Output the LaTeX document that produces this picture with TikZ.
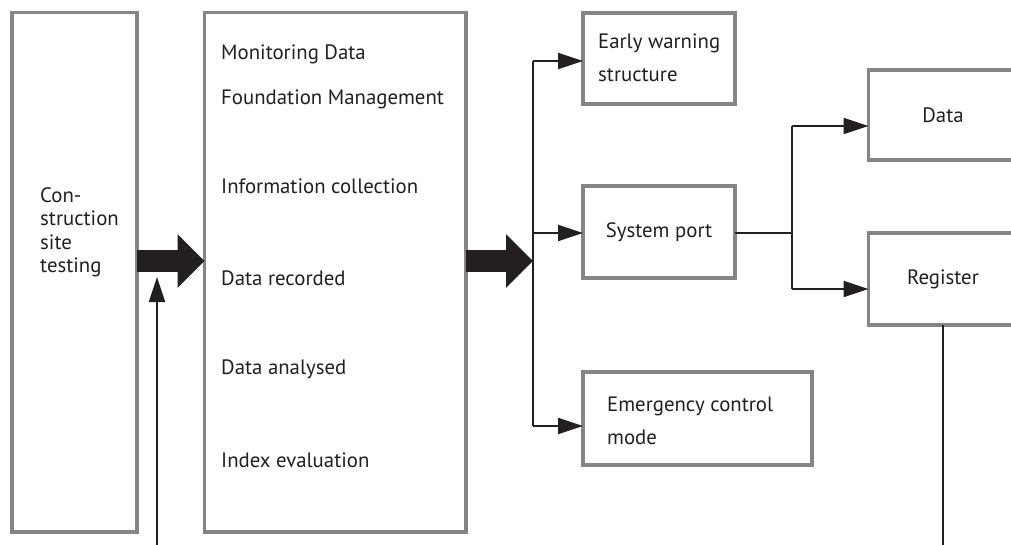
\documentclass[tikz,border=0pt]{standalone}
\usepackage{fontspec}
\setmainfont{PT Sans}
\usepackage{tikz}
\usetikzlibrary{arrows.meta,positioning}
\definecolor{ink}{HTML}{231F20}
\definecolor{frame}{HTML}{858585}

\begin{document}
\begin{tikzpicture}[x=1pt, y=-1pt, font=\fontsize{20.8}{23.5}\selectfont, text=ink,
  box/.style={draw=frame, line width=3.5pt, rectangle, outer sep=0pt, inner sep=0pt},
  twoline/.style={align=left, inner sep=0pt, anchor=base west, font=\fontsize{20.8}{33}\selectfont},
  itemtext/.style={inner sep=0pt, anchor=base west},
  link/.style={draw=ink, line width=1.8pt},
  tip/.style={link, -{Triangle[length=25pt, width=16pt]}},
  fat/.style={draw=ink, line width=21pt, -{Triangle[length=27pt, width=52pt]}}]
\clip (0,0) rectangle (1011,545);

% the two tall boxes
\node[box, minimum width=125pt, minimum height=519.5pt] (site) at (74.5,272.25) {};
\node[box, minimum width=261.5pt, minimum height=519.5pt] (monitor) at (335.25,272.25) {};
\node[inner sep=0pt, anchor=north west, align=left] (sitetext) at (40,187) {Con-\\struction\\site\\testing};
\foreach \txt/\yy [count=\i] in {Monitoring Data/60, Foundation Management/105, Information collection/194,
    Data recorded/285, Data analysed/374, Index evaluation/467}
  \node[itemtext] (item\i) at (221,\yy) {\txt};

% outputs (two-line texts sit on the baseline of their last line)
\node[box, minimum width=152pt, minimum height=91pt] (warning) at (659,58.5) {};
\node[twoline] (warningtext) at (598,82) {Early warning\\structure};
\node[box, minimum width=152pt, minimum height=92pt] (port) at (659,232) {System port};
\node[box, minimum width=229pt, minimum height=93pt] (emergency) at (697.5,418.5) {};
\node[twoline] (emergencytext) at (607,444) {Emergency control\\mode};
\node[box, minimum width=149pt, minimum height=90pt] (data) at (943,115) {Data};
\node[box, minimum width=149pt, minimum height=92pt] (register) at (943,279) {Register};

% big arrows
\coordinate (fatrow) at (0,261);
\coordinate (trunktop) at (533,61);
\coordinate (trunkmid) at (533,233);
\coordinate (trunkbot) at (533,426);
\draw[fat] (site.east |- fatrow) -- (monitor.west |- fatrow);
\draw[fat] (monitor.east |- fatrow) -- (trunkmid |- fatrow);
\draw[tip] (157,560) -- ++(0,-283);

% branches
\draw[link] (trunktop) -- (trunkbot);
\draw[tip] (trunktop) -- (trunktop -| warning.west);
\draw[tip] (trunkmid) -- (trunkmid -| port.west);
\draw[tip] (trunkbot) -- (trunkbot -| emergency.west);

\coordinate (forktop) at (792,126);
\coordinate (forkmid) at (792,233);
\coordinate (forkbot) at (792,289);
\draw[link] (port.east |- forkmid) -- (forkmid);
\draw[link] (forktop) -- (forkbot);
\draw[tip] (forktop) -- (forktop -| data.west);
\draw[tip] (forkbot) -- (forkbot -| register.west);
\draw[link] (register.south) -- ++(0,240);
\end{tikzpicture}
\end{document}
